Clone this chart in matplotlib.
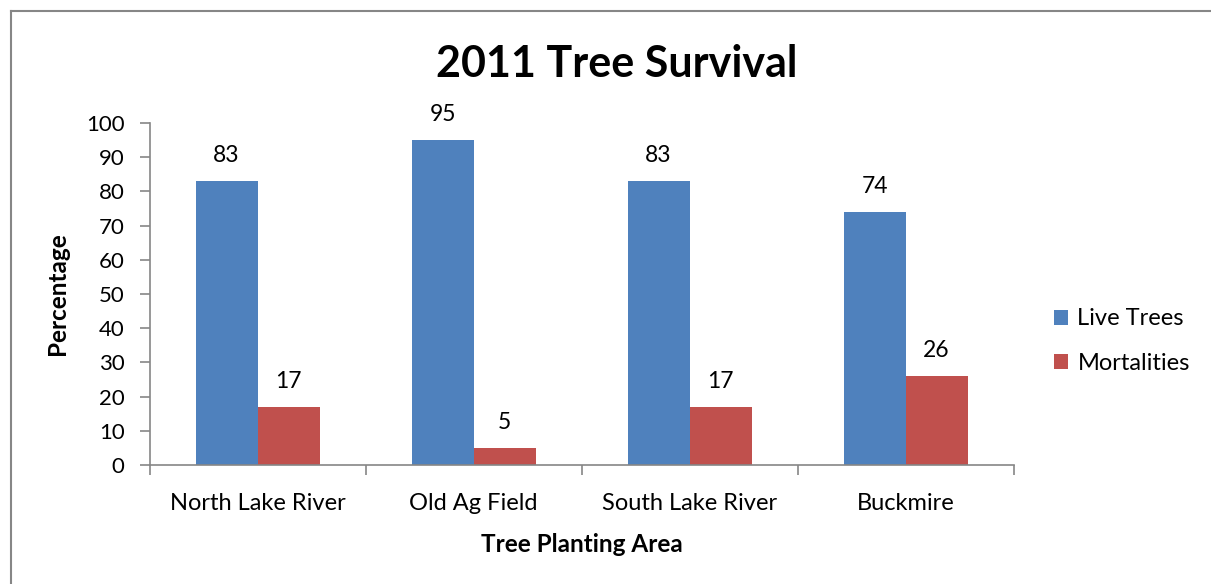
import matplotlib.pyplot as plt
import numpy as np
from matplotlib.lines import Line2D

plt.rcParams['font.family'] = ['Lato', 'DejaVu Sans']

# Data
areas = ['North Lake River', 'Old Ag Field', 'South Lake River', 'Buckmire']
live_trees = [83, 95, 83, 74]
mortalities = [17, 5, 17, 26]
series_names = ['Live Trees', 'Mortalities']
colors = ['#4F81BD', '#C0504D']

fig = plt.figure(figsize=(12.11, 5.84), dpi=100)
ax = fig.add_axes([0.1235, 0.2038, 0.7135, 0.5856])

x = np.arange(len(areas))
width = 0.287
for i, (name, vals) in enumerate(zip(series_names, [live_trees, mortalities])):
    bars = ax.bar(x + (i - 0.5) * width, vals, width, color=colors[i], label=name)
    for b, v in zip(bars, vals):
        ax.annotate(str(v), (b.get_x() + b.get_width() / 2, v),
                    xytext=(0, 11), textcoords='offset points',
                    ha='center', va='bottom', fontsize=16.5)

ax.set_xlim(-0.5, len(areas) - 0.5)
ax.set_ylim(0, 100)
ax.set_yticks(range(0, 101, 10))
ax.set_xticks(x)
ax.set_xticklabels(areas)
ax.set_xticks(np.arange(-0.5, len(areas), 1), minor=True)
ax.tick_params(axis='x', which='major', length=0, pad=20, labelsize=17)
ax.tick_params(axis='x', which='minor', length=7, width=1.2, color='#868686', direction='out')
ax.tick_params(axis='y', length=7, width=1.2, color='#868686', labelsize=16, pad=11)

for s in ['top', 'right']:
    ax.spines[s].set_visible(False)
for s in ['left', 'bottom']:
    ax.spines[s].set_color('#868686')
    ax.spines[s].set_linewidth(1.2)

ax.set_xlabel('Tree Planting Area', fontsize=17.5, fontweight='bold', labelpad=14)
ax.set_ylabel('Percentage', fontsize=17.5, fontweight='bold', labelpad=12)
fig.text(0.509, 0.89, '2011 Tree Survival', ha='center', va='center',
         fontsize=31, fontweight='bold')

ax.legend(loc='center left', bbox_to_anchor=(1.022, 0.362), frameon=False,
          fontsize=17, handlelength=0.6, handleheight=0.6, labelspacing=1.0,
          handletextpad=0.4)

# outer chart border
fig.add_artist(Line2D([11 / 1211, 11 / 1211], [0, 1 - 11 / 584],
                      transform=fig.transFigure, color='#868686', lw=1.5))
fig.add_artist(Line2D([11 / 1211, 1], [1 - 11 / 584, 1 - 11 / 584],
                      transform=fig.transFigure, color='#868686', lw=1.5))

fig.savefig('out.png', dpi=100)
